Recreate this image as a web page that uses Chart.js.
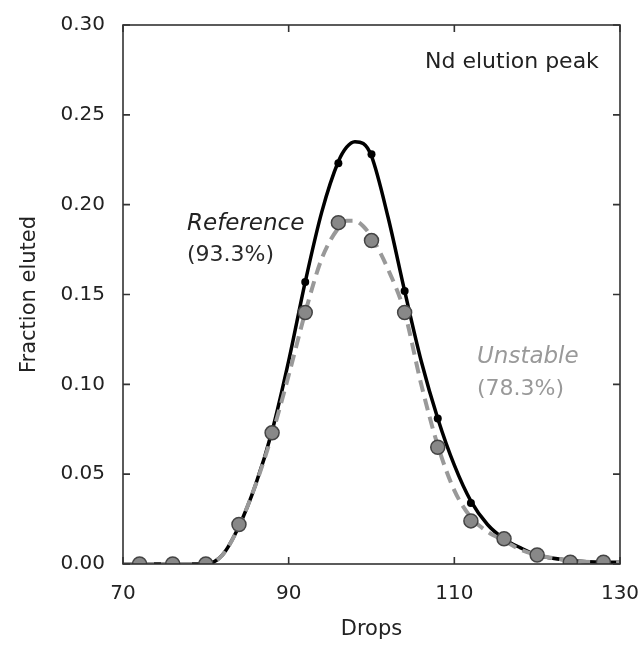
<!DOCTYPE html>
<html>
<head>
<meta charset="utf-8">
<script src="https://cdn.jsdelivr.net/npm/chart.js@4/dist/chart.umd.min.js"></script>
<style>
  html, body { margin: 0; padding: 0; background: #fff; }
  #wrap { width: 643px; height: 645px; }
</style>
</head>
<body>
<div id="wrap"><canvas id="elution"></canvas></div>
<script>
// measured points (every 4 drops)
var pointDrops = [72, 76, 80, 84, 88, 92, 96, 100, 104, 108, 112, 116, 120, 124, 128];
var referencePts = [0, 0, 0, 0.021, 0.073, 0.157, 0.223, 0.228, 0.152, 0.081, 0.034, 0.014, 0.006, 0.002, 0.001];
var unstablePts = [0, 0, 0, 0.022, 0.073, 0.140, 0.190, 0.180, 0.140, 0.065, 0.024, 0.014, 0.005, 0.001, 0.001];

// fitted curves
var curveDrops = [70, 80, 82, 84, 86, 88, 90, 92, 94, 96, 97, 98, 99, 100, 102, 104, 106, 108, 110, 112, 114, 116, 118, 120, 124, 128, 130];
var referenceCurve = [0, 0, 0.005, 0.021, 0.044, 0.074, 0.113, 0.157, 0.196, 0.224, 0.232, 0.235, 0.234, 0.227, 0.193, 0.152, 0.113, 0.081, 0.055, 0.035, 0.022, 0.014, 0.009, 0.005, 0.002, 0.001, 0.001];
var unstableCurve = [0, 0, 0.005, 0.021, 0.044, 0.072, 0.105, 0.140, 0.170, 0.187, 0.191, 0.191, 0.188, 0.182, 0.164, 0.140, 0.100, 0.066, 0.041, 0.026, 0.018, 0.013, 0.008, 0.005, 0.002, 0.001, 0.001];

var xTicks = [70, 90, 110, 130];
var yTicks = [0, 0.05, 0.10, 0.15, 0.20, 0.25, 0.30];

var notes = [
  { text: 'Nd elution peak', x: 425, y: 62, font: '22px "DejaVu Sans"', color: '#222' },
  { text: 'Reference', x: 187, y: 224, font: 'italic 23px "DejaVu Sans"', color: '#222' },
  { text: '(93.3%)', x: 187, y: 255, font: '22px "DejaVu Sans"', color: '#2a2a2a' },
  { text: 'Unstable', x: 477, y: 357, font: 'italic 23px "DejaVu Sans"', color: '#999' },
  { text: '(78.3%)', x: 477, y: 389, font: '22px "DejaVu Sans"', color: '#999' }
];

function pairs(xs, ys) {
  return xs.map(function (x, i) { return { x: x, y: ys[i] }; });
}

// box round the plot with inward ticks on all four sides, plus the text notes
var framePlugin = {
  id: 'frame',
  afterDraw: function (chart) {
    var ctx = chart.ctx, a = chart.chartArea;
    var xs = chart.scales.x, ys = chart.scales.y;
    ctx.save();
    ctx.strokeStyle = '#333';
    ctx.lineWidth = 1.6;
    ctx.strokeRect(a.left, a.top, a.right - a.left, a.bottom - a.top);
    ctx.beginPath();
    xTicks.forEach(function (v) {
      var px = xs.getPixelForValue(v);
      ctx.moveTo(px, a.bottom); ctx.lineTo(px, a.bottom - 7);
      ctx.moveTo(px, a.top); ctx.lineTo(px, a.top + 7);
    });
    yTicks.forEach(function (v) {
      var py = ys.getPixelForValue(v);
      ctx.moveTo(a.left, py); ctx.lineTo(a.left + 7, py);
      ctx.moveTo(a.right, py); ctx.lineTo(a.right - 7, py);
    });
    ctx.stroke();
    ctx.textBaseline = 'middle';
    ctx.textAlign = 'left';
    notes.forEach(function (n) {
      ctx.font = n.font;
      ctx.fillStyle = n.color;
      ctx.fillText(n.text, n.x, n.y);
    });
    ctx.restore();
  }
};

var elutionChart = new Chart(document.getElementById('elution').getContext('2d'), {
  type: 'scatter',
  data: {
    datasets: [{
      label: 'Reference fit',
      data: pairs(curveDrops, referenceCurve),
      showLine: true,
      borderColor: '#000',
      borderWidth: 3.5,
      pointRadius: 0,
      cubicInterpolationMode: 'monotone',
      order: 4
    }, {
      label: 'Unstable fit',
      data: pairs(curveDrops, unstableCurve),
      showLine: true,
      borderColor: '#999',
      borderWidth: 4,
      borderDash: [12, 7],
      pointRadius: 0,
      cubicInterpolationMode: 'monotone',
      order: 3
    }, {
      label: 'Reference',
      data: pairs(pointDrops, referencePts),
      backgroundColor: '#000',
      borderColor: '#000',
      borderWidth: 0,
      pointRadius: 4,
      order: 2
    }, {
      label: 'Unstable',
      data: pairs(pointDrops, unstablePts),
      backgroundColor: '#888',
      borderColor: '#444',
      borderWidth: 1.5,
      pointRadius: 7,
      order: 1
    }]
  },
  options: {
    responsive: true,
    maintainAspectRatio: false,
    animation: false,
    layout: { padding: { top: 25, right: 23, left: 0, bottom: 0 } },
    plugins: {
      legend: { display: false },
      tooltip: { enabled: false }
    },
    scales: {
      x: {
        type: 'linear',
        min: 70,
        max: 130,
        afterFit: function (s) { s.height = 81; s.paddingLeft = 0; s.paddingRight = 0; },
        afterBuildTicks: function (s) { s.ticks = xTicks.map(function (v) { return { value: v }; }); },
        grid: { display: false, drawTicks: false },
        border: { display: false },
        ticks: { padding: 18, color: '#222', font: { family: 'DejaVu Sans', size: 20 } },
        title: {
          display: true,
          text: 'Drops',
          color: '#222',
          padding: { top: 0, bottom: 3 },
          font: { family: 'DejaVu Sans', size: 21 }
        }
      },
      y: {
        min: 0,
        max: 0.30,
        afterFit: function (s) { s.width = 123; s.paddingTop = 0; s.paddingBottom = 0; },
        afterBuildTicks: function (s) { s.ticks = yTicks.map(function (v) { return { value: v }; }); },
        grid: { display: false, drawTicks: false },
        border: { display: false },
        ticks: {
          padding: 18,
          color: '#222',
          font: { family: 'DejaVu Sans', size: 20 },
          callback: function (v) { return Number(v).toFixed(2); }
        },
        title: {
          display: true,
          text: 'Fraction eluted',
          color: '#222',
          padding: { top: 17, bottom: 0 },
          font: { family: 'DejaVu Sans', size: 21 }
        }
      }
    }
  },
  plugins: [framePlugin]
});
</script>
</body>
</html>
